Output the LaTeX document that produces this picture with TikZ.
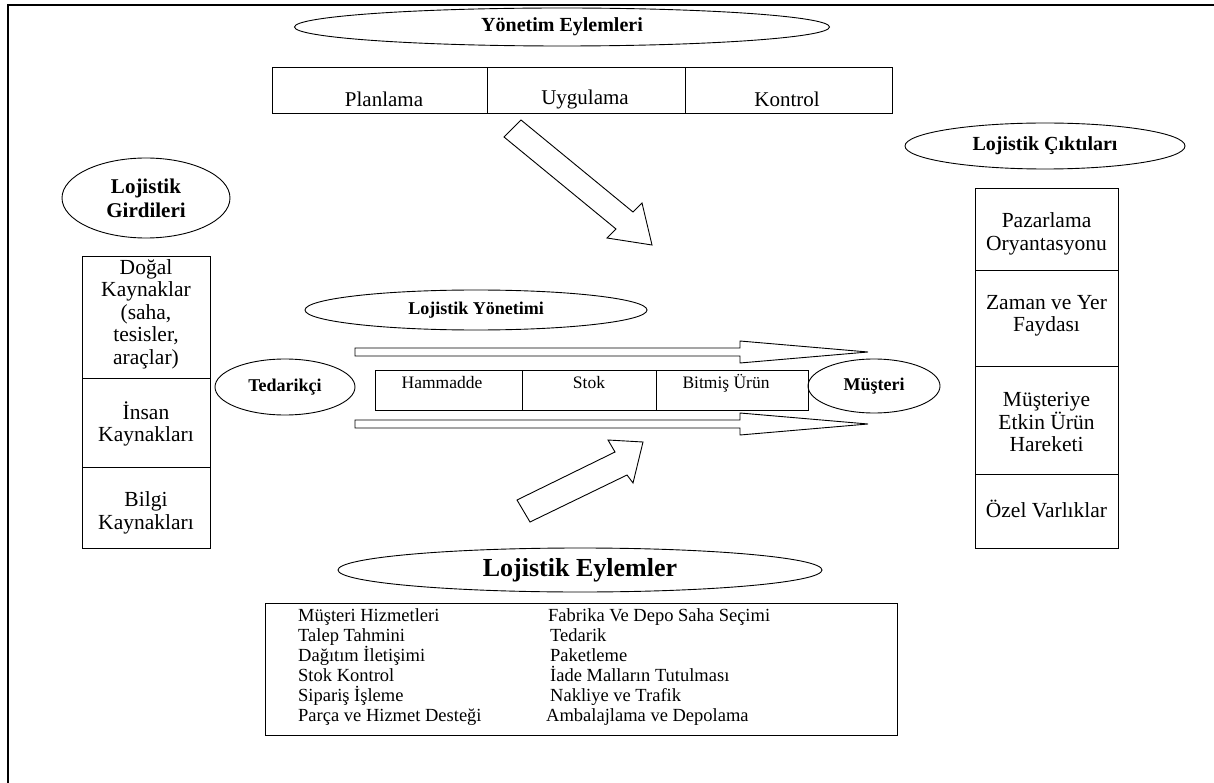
\documentclass[tikz,border=0pt]{standalone}
\usepackage{fontspec}
\setmainfont{Liberation Serif}
\usetikzlibrary{shapes.geometric}
\tikzset{
  oval/.style={draw, ellipse, line width=0.9pt, inner sep=0pt, font=\bfseries\fontsize{18}{22}\selectfont, align=center},
  cell/.style={draw, line width=0.9pt, inner sep=0pt},
  txt/.style={inner sep=0pt, font=\fontsize{21.5}{22.5}\selectfont, align=center},
  ttxt/.style={inner sep=0pt, font=\fontsize{21}{23}\selectfont, align=center},
  mtxt/.style={inner sep=0pt, font=\fontsize{17.5}{20}\selectfont, align=center},
  ltxt/.style={inner sep=0pt, anchor=base west, font=\fontsize{18.5}{20}\selectfont},
  hollow/.style={draw, line width=0.9pt, fill=white, line join=miter},
  frame/.style={line width=1.6pt}
}
\begin{document}
\begin{tikzpicture}[x=1pt,y=-1pt]
\useasboundingbox (0,0) rectangle (1214,783);
% frame
\coordinate (fa) at (8,783);
\coordinate (fb) at (8,5);
\coordinate (fc) at (1214,5);
\draw[frame] (fa) -- (fb) -- (fc);

% Yonetim Eylemleri
\node[oval, minimum width=535, minimum height=38, font=\bfseries\fontsize{20}{22}\selectfont] (ye) at (562,27) {Yönetim Eylemleri};
\node[cell, minimum width=215, minimum height=46] (c1) at (379.5,90) {};
\node[cell, minimum width=198, minimum height=46] (c2) at (586,90) {};
\node[cell, minimum width=207, minimum height=46] (c3) at (788.5,90) {};
\node[ttxt] (t1) at (384,99) {Planlama};
\node[ttxt] (t2) at (585,99) {Uygulama};
\node[ttxt] (t3) at (787,99) {Kontrol};

% arrow down-right
\coordinate (d1) at (504,137);
\coordinate (d2) at (521,120);
\coordinate (d3) at (633,212);
\coordinate (d4) at (642,203);
\coordinate (d5) at (652,245);
\coordinate (d6) at (607,238);
\coordinate (d7) at (616,229);
\draw[hollow] (d1) -- (d2) -- (d3) -- (d4) -- (d5) -- (d6) -- (d7) -- cycle;

% Lojistik Girdileri
\node[oval, minimum width=168, minimum height=80, font=\bfseries\fontsize{21}{24}\selectfont] (lg) at (146,198) {Lojistik\\Girdileri};
\node[cell, minimum width=128, minimum height=122] (g1) at (146,317) {};
\node[cell, minimum width=128, minimum height=89] (g2) at (146,422.5) {};
\node[cell, minimum width=128, minimum height=81] (g3) at (146,507.5) {};
\node[txt] (gt1) at (146,314) {Doğal\\Kaynaklar\\(saha,\\tesisler,\\araçlar)};
\node[txt] (gt2) at (146,424) {İnsan\\Kaynakları};
\node[txt] (gt3) at (146,513) {Bilgi\\Kaynakları};

% Lojistik Ciktilari
\node[oval, minimum width=280, minimum height=46, font=\bfseries\fontsize{20}{22}\selectfont] (lc) at (1045,146) {Lojistik Çıktıları};
\node[cell, minimum width=143, minimum height=82] (o1) at (1046.5,229) {};
\node[cell, minimum width=143, minimum height=96] (o2) at (1046.5,318) {};
\node[cell, minimum width=143, minimum height=108] (o3) at (1046.5,420) {};
\node[cell, minimum width=143, minimum height=74] (o4) at (1046.5,511) {};
\node[txt] (ot1) at (1046.5,234) {Pazarlama\\Oryantasyonu};
\node[txt] (ot2) at (1046.5,316) {Zaman ve Yer\\Faydası};
\node[txt] (ot3) at (1046.5,422) {Müşteriye\\Etkin Ürün\\Hareketi};
\node[txt] (ot4) at (1046.5,509) {Özel Varlıklar};

% Lojistik Yonetimi
\node[oval, minimum width=342, minimum height=40] (ly) at (476,310) {Lojistik Yönetimi};
\node[oval, minimum width=140, minimum height=56] (ted) at (285,387) {Tedarikçi};
\node[oval, minimum width=132, minimum height=54] (mus) at (874,386) {Müşteri};
\node[cell, minimum width=147, minimum height=40] (m1) at (448.5,390) {};
\node[cell, minimum width=134, minimum height=40] (m2) at (589,390) {};
\node[cell, minimum width=152, minimum height=40] (m3) at (732,390) {};
\node[mtxt] (mt1) at (442,383) {Hammadde};
\node[mtxt] (mt2) at (589,383) {Stok};
\node[mtxt] (mt3) at (726,383) {Bitmiş Ürün};

% flow arrows
\coordinate (u1) at (355,348);
\coordinate (u2) at (740,348);
\coordinate (u3) at (740,341);
\coordinate (u4) at (868,352);
\coordinate (u5) at (740,363);
\coordinate (u6) at (740,356);
\coordinate (u7) at (355,356);
\draw[hollow] (u1) -- (u2) -- (u3) -- (u4) -- (u5) -- (u6) -- (u7) -- cycle;
\coordinate (l1) at (355,420);
\coordinate (l2) at (740,420);
\coordinate (l3) at (740,413);
\coordinate (l4) at (868,424);
\coordinate (l5) at (740,435);
\coordinate (l6) at (740,428);
\coordinate (l7) at (355,428);
\draw[hollow] (l1) -- (l2) -- (l3) -- (l4) -- (l5) -- (l6) -- (l7) -- cycle;

% arrow up-right
\coordinate (e1) at (517,500);
\coordinate (e2) at (530,522);
\coordinate (e3) at (627,475);
\coordinate (e4) at (633,483);
\coordinate (e5) at (643,442);
\coordinate (e6) at (608,440);
\coordinate (e7) at (615,452);
\draw[hollow] (e1) -- (e2) -- (e3) -- (e4) -- (e5) -- (e6) -- (e7) -- cycle;

% Lojistik Eylemler
\node[oval, minimum width=484, minimum height=44, font=\bfseries\fontsize{26}{28}\selectfont] (le) at (580,570) {Lojistik Eylemler};
\node[cell, minimum width=632, minimum height=132] (lb) at (581,669) {};
\node[ltxt] (a1) at (298,621) {Müşteri Hizmetleri};
\node[ltxt] (a2) at (298,641) {Talep Tahmini};
\node[ltxt] (a3) at (298,661) {Dağıtım İletişimi};
\node[ltxt] (a4) at (298,681) {Stok Kontrol};
\node[ltxt] (a5) at (298,701) {Sipariş İşleme};
\node[ltxt] (a6) at (298,721) {Parça ve Hizmet Desteği};
\node[ltxt] (b1) at (548,621) {Fabrika Ve Depo Saha Seçimi};
\node[ltxt] (b2) at (550,641) {Tedarik};
\node[ltxt] (b3) at (550,661) {Paketleme};
\node[ltxt] (b4) at (550,681) {İade Malların Tutulması};
\node[ltxt] (b5) at (550,701) {Nakliye ve Trafik};
\node[ltxt] (b6) at (546,721) {Ambalajlama ve Depolama};
\end{tikzpicture}
\end{document}
